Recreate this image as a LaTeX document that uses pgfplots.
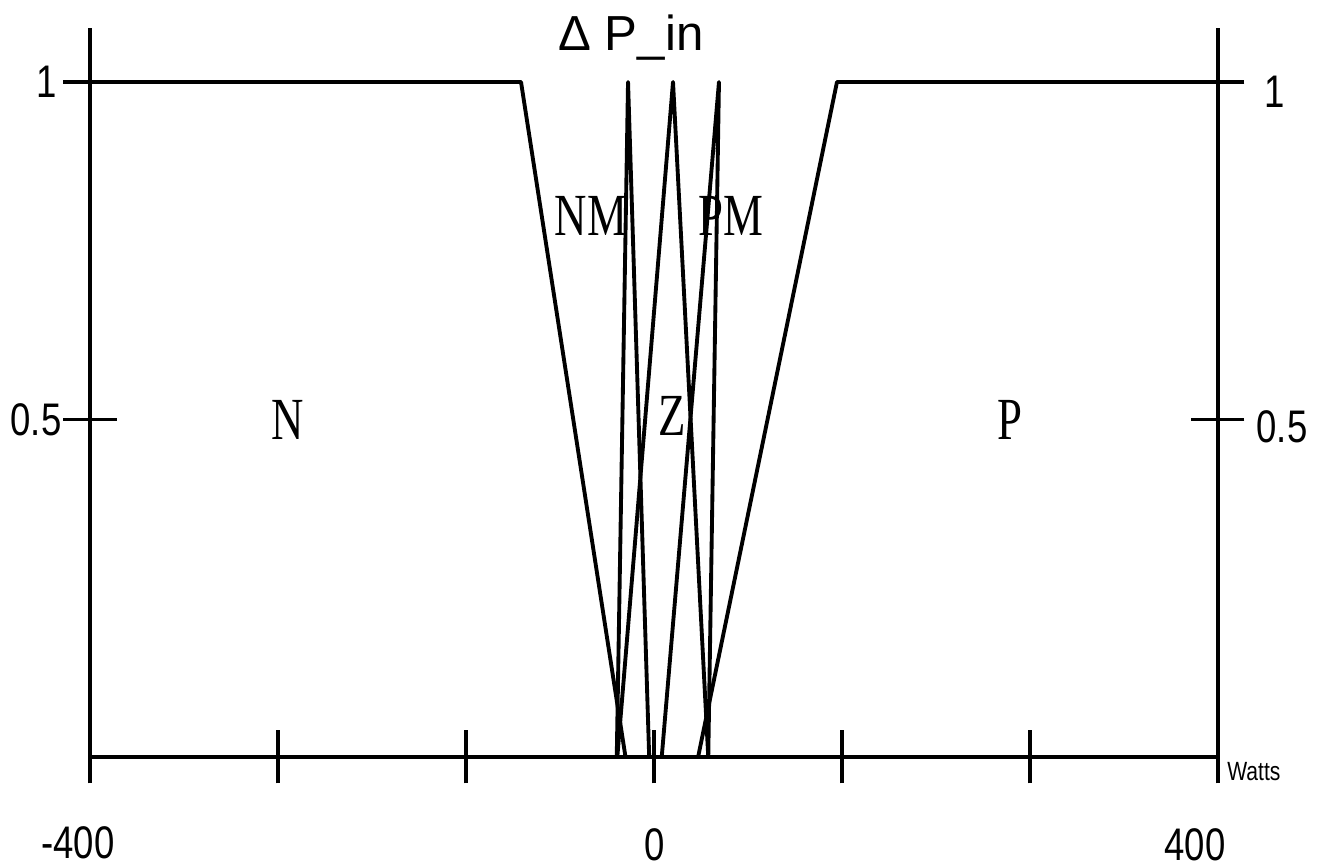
\documentclass[border=0pt]{standalone}
\usepackage{pgfplots}
\pgfplotsset{compat=1.18}
\usepackage{fontspec}
\setmainfont{Liberation Sans}
\newfontfamily\numfont[FakeStretch=0.8]{Liberation Sans}
\newfontfamily\labfont[FakeStretch=0.75]{Liberation Serif}

\begin{document}
\begin{tikzpicture}
\useasboundingbox (-0.90cm,-1.10cm) rectangle (12.28cm,7.57cm);
\begin{axis}[
  at={(0,0)}, anchor=south west,
  scale only axis, width=11.28cm, height=7.29cm,
  xmin=-400, xmax=400, ymin=0, ymax=1.08,
  separate axis lines,
  axis x line*=bottom, axis y line*=box,
  axis line style={line width=1.2pt, black},
  xtick={-400,-266.667,-133.333,0,133.333,266.667,400},
  ytick={0.5,1},
  xticklabels={}, yticklabels={},
  tick align=center,
  major tick length=0.53cm,
  tick style={line width=1.1pt, black},
  clip=false,
]
% N
\addplot[black, line width=1.1pt, line join=round] coordinates {(-400,1) (-94.3,1) (-20.2,0)};
% NM
\addplot[black, line width=1.1pt, line join=round] coordinates {(-26.4,0) (-18.4,1) (-3.4,0)};
% Z
\addplot[black, line width=1.1pt, line join=round] coordinates {(-26.0,0) (13.5,1) (38.5,0)};
% PM
\addplot[black, line width=1.1pt, line join=round] coordinates {(5.5,0) (46.1,1) (38.5,0)};
% P
\addplot[black, line width=1.1pt, line join=round] coordinates {(31.3,0) (129.8,1) (400,1)};

\node[font=\labfont\fontsize{17}{17}\selectfont, inner sep=0] at (axis cs:-259.6,0.5) {N};
\node[font=\labfont\fontsize{17}{17}\selectfont, inner sep=0] at (axis cs:12.8,0.505) {Z};
\node[font=\labfont\fontsize{17}{17}\selectfont, inner sep=0] at (axis cs:252.5,0.5) {P};
\node[font=\labfont\fontsize{17}{17}\selectfont, inner sep=0] at (axis cs:-44.7,0.801) {NM};
\node[font=\labfont\fontsize{17}{17}\selectfont, inner sep=0] at (axis cs:54.6,0.801) {PM};

\node[font=\numfont\fontsize{13}{13}\selectfont, inner sep=0] at (axis cs:-408.5,-0.127) {-400};
\node[font=\numfont\fontsize{13}{13}\selectfont, inner sep=0] at (axis cs:0.7,-0.130) {0};
\node[font=\numfont\fontsize{13}{13}\selectfont, inner sep=0] at (axis cs:383.7,-0.130) {400};
\node[font=\numfont\fontsize{13}{13}\selectfont, inner sep=0] at (axis cs:-430.5,1.0) {1};
\node[font=\numfont\fontsize{13}{13}\selectfont, inner sep=0] at (axis cs:-438.3,0.5) {0.5};
\node[font=\numfont\fontsize{13}{13}\selectfont, inner sep=0] at (axis cs:440.4,0.985) {1};
\node[font=\numfont\fontsize{13}{13}\selectfont, inner sep=0] at (axis cs:445.4,0.489) {0.5};
\node[font=\fontsize{14}{14}\selectfont, inner sep=0, anchor=base] at (axis cs:-16.3,1.047) {Δ P\_in};
\node[font=\numfont\fontsize{7.5}{7.5}\selectfont, inner sep=0] at (axis cs:425.5,-0.022) {Watts};
\end{axis}
\end{tikzpicture}
\end{document}
